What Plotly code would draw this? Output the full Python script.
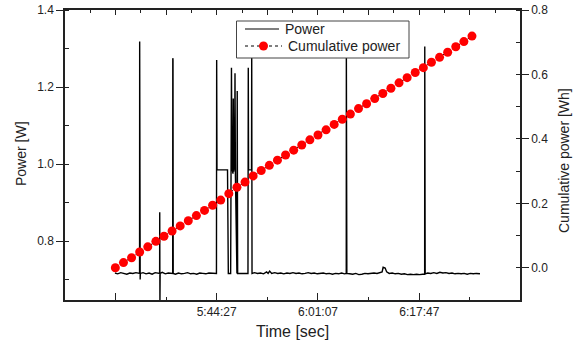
import plotly.graph_objects as go

# ---- data (time in seconds of the day) ----
power_t = [
    19663, 19690, 19720, 19750, 19780, 19810, 19840, 19870, 19900,
    19906, 19907, 19909, 19910, 19912, 19914,
    19940, 19970, 20000, 20030, 20060, 20090,
    20104, 20105, 20107, 20109,
    20130, 20160, 20190, 20220,
    20233, 20234, 20236, 20238,
    20260, 20290, 20320, 20350, 20380, 20410, 20440, 20470, 20500, 20530,
    20560, 20590, 20620, 20650, 20665,
    20667, 20670, 20774, 20782, 20805, 20813, 20818, 20828, 20831, 20835,
    20844, 20848, 20852, 20860, 20867, 20870, 20874, 20976, 20979, 20982,
    21011, 21013, 21016,
    21040, 21070, 21100, 21130, 21160, 21175, 21190, 21210, 21240, 21270,
    21300, 21330, 21360, 21390, 21420, 21450, 21480, 21510, 21540, 21570,
    21600, 21630, 21660, 21690, 21720, 21750, 21780, 21810, 21840, 21870,
    21900, 21930,
    21946, 21947, 21949, 21950, 21952,
    21980, 22010, 22040, 22070, 22100, 22130, 22160, 22190, 22220, 22250,
    22280, 22300, 22310, 22330, 22345, 22370, 22400, 22430, 22460, 22490,
    22520, 22550, 22580, 22610, 22640, 22670, 22700,
    22720, 22721, 22723, 22725,
    22750, 22780, 22810, 22840, 22870, 22900, 22930, 22960, 22990, 23020,
    23050, 23080, 23110, 23140, 23170, 23200, 23230, 23266,
]
power_w = [
    0.717, 0.715, 0.718, 0.716, 0.714, 0.717, 0.716, 0.718, 0.715,
    0.716, 1.318, 0.720, 1.265, 0.700, 0.716,
    0.718, 0.715, 0.717, 0.714, 0.718, 0.716,
    0.716, 0.875, 0.640, 0.716,
    0.719, 0.715, 0.717, 0.716,
    0.716, 1.275, 1.270, 0.716,
    0.714, 0.717, 0.715, 0.716, 0.718, 0.715, 0.716, 0.714, 0.717, 0.716,
    0.715, 0.717, 0.716, 0.715, 0.716,
    1.270, 0.985, 0.985, 0.716, 0.716, 1.250, 0.990, 0.975, 1.170, 0.980,
    1.000, 1.236, 0.970, 0.716, 0.716, 1.190, 0.716, 0.716, 1.250, 0.985,
    0.985, 1.290, 0.716,
    0.718, 0.716, 0.717, 0.715, 0.720, 0.716, 0.722, 0.716, 0.718, 0.716,
    0.717, 0.715, 0.717, 0.716, 0.718, 0.716, 0.717, 0.715, 0.716, 0.718,
    0.716, 0.717, 0.715, 0.716, 0.717, 0.715, 0.716, 0.714, 0.716, 0.715,
    0.717, 0.715,
    0.716, 1.300, 0.990, 1.175, 0.716,
    0.715, 0.714, 0.716, 0.713, 0.714, 0.716, 0.715, 0.716, 0.717, 0.716,
    0.718, 0.720, 0.732, 0.730, 0.720, 0.716, 0.717, 0.715, 0.716, 0.714,
    0.715, 0.713, 0.714, 0.713, 0.714, 0.713, 0.714,
    0.714, 1.305, 0.970, 0.715,
    0.717, 0.716, 0.718, 0.716, 0.719, 0.717, 0.718, 0.716, 0.717, 0.715,
    0.716, 0.715, 0.716, 0.714, 0.716, 0.715, 0.716, 0.715,
]

cum_t = [
    19667, 19747, 19827, 19907, 19987, 20067, 20147, 20227, 20307, 20387,
    20467, 20547, 20627, 20707, 20787, 20867, 20947, 21027, 21107, 21187,
    21267, 21347, 21427, 21507, 21587, 21667, 21747, 21827, 21907, 21987,
    22067, 22147, 22227, 22307, 22387, 22467, 22547, 22627, 22707, 22787,
    22867, 22947, 23027, 23107, 23187,
]
cum_wh = [
    0.000, 0.016, 0.031, 0.049, 0.065, 0.082, 0.098, 0.114, 0.130, 0.146,
    0.162, 0.178, 0.194, 0.210, 0.230, 0.250, 0.266, 0.285, 0.302, 0.318,
    0.334, 0.350, 0.365, 0.381, 0.397, 0.412, 0.428, 0.445, 0.461, 0.477,
    0.494, 0.509, 0.525, 0.541, 0.557, 0.574, 0.590, 0.606, 0.621, 0.638,
    0.653, 0.669, 0.686, 0.702, 0.719,
]

x_tickvals = [19667, 20667, 21667, 22667]
x_ticktext = ["", "5:44:27", "6:01:07", "6:17:47"]
x_range = [19170, 23661]

series_names = ["Power", "Cumulative power"]
x_title = "Time [sec]"
y_title = "Power [W]"
y2_title = "Cumulative power [Wh]"

FONT = "Liberation Sans, Arial, sans-serif"
AX = "#222222"

# page geometry (page body margin is removed, so figure == window)
W, H = 580, 347
PL, PR, PT, PB = 65, 520, 10, 300          # plot area in pixels
L, T, R, B = PL, PT, W - PR, H - PB
PW, PH = PR - PL, PB - PT


def px(xp):
    return (xp - PL) / PW


def py(yp):
    return (PB - yp) / PH


fig = go.Figure()
fig.add_trace(go.Scatter(
    x=power_t, y=power_w, mode="lines", name=series_names[0],
    line=dict(color="black", width=1.4), showlegend=False,
))
fig.add_trace(go.Scatter(
    x=cum_t, y=cum_wh, mode="lines+markers", name=series_names[1],
    yaxis="y2", showlegend=False,
    line=dict(color="black", width=1, dash="dot"),
    marker=dict(color="#ff0000", size=9, line=dict(width=0)),
))
# helper trace so that the top axis is drawn
fig.add_trace(go.Scatter(
    x=[x_tickvals[0]], y=[1.0], xaxis="x2", mode="markers",
    marker=dict(opacity=0), showlegend=False, hoverinfo="skip",
))

# legend drawn as a boxed key
shapes = [
    dict(type="rect", xref="paper", yref="paper",
         x0=px(236.5), x1=px(409), y0=py(58), y1=py(21),
         line=dict(color="#444", width=1), fillcolor="white", layer="above"),
    dict(type="line", xref="paper", yref="paper",
         x0=px(245), x1=px(279), y0=py(29), y1=py(29),
         line=dict(color="black", width=1.2), layer="above"),
    dict(type="line", xref="paper", yref="paper",
         x0=px(245), x1=px(282), y0=py(46), y1=py(46),
         line=dict(color="black", width=1, dash="dot"), layer="above"),
    dict(type="circle", xref="paper", yref="paper",
         x0=px(259), x1=px(268), y0=py(50.5), y1=py(41.5),
         line=dict(width=0), fillcolor="#ff0000", layer="above"),
]

annotations = [
    dict(text=series_names[0], xref="paper", yref="paper",
         x=px(283), y=py(29), xanchor="left", yanchor="middle",
         showarrow=False, font=dict(size=14, family=FONT, color="#222")),
    dict(text=series_names[1], xref="paper", yref="paper",
         x=px(286), y=py(46), xanchor="left", yanchor="middle",
         showarrow=False, font=dict(size=14, family=FONT, color="#222")),
    dict(text=x_title, xref="paper", yref="paper",
         x=0.5, y=py(331), xanchor="center", yanchor="middle",
         showarrow=False, font=dict(size=16, family=FONT, color="#222")),
    dict(text=y_title, xref="paper", yref="paper",
         x=px(21), y=py(154), xanchor="center", yanchor="middle",
         textangle=-90, showarrow=False,
         font=dict(size=14, family=FONT, color="#222")),
    dict(text=y2_title, xref="paper", yref="paper",
         x=px(564), y=py(161), xanchor="center", yanchor="middle",
         textangle=-90, showarrow=False,
         font=dict(size=14, family=FONT, color="#222")),
]

fig.update_layout(
    width=W, height=H,
    margin=dict(l=L, r=R, t=T, b=B, autoexpand=False),
    paper_bgcolor="white", plot_bgcolor="white",
    font=dict(family=FONT, size=12, color="#222"),
    showlegend=False,
    shapes=shapes,
    annotations=annotations,
    xaxis=dict(
        range=x_range, showgrid=False, zeroline=False, automargin=False,
        showline=True, linecolor=AX, linewidth=1.5,
        tickmode="array", tickvals=x_tickvals, ticktext=x_ticktext,
        ticks="inside", ticklen=7, tickwidth=1, tickcolor=AX,
        minor=dict(tick0=19667, dtick=500, ticks="inside", ticklen=3,
                   tickwidth=1, tickcolor=AX),
        tickfont=dict(size=12),
    ),
    xaxis2=dict(
        range=x_range, overlaying="x", side="top", showgrid=False,
        zeroline=False, showline=True, linecolor=AX, linewidth=1.5,
        showticklabels=False, automargin=False,
        tickmode="linear", tick0=19667, dtick=500,
        ticks="inside", ticklen=5, tickwidth=1, tickcolor=AX,
        minor=dict(tick0=19667, dtick=250, ticks="inside", ticklen=3,
                   tickwidth=1, tickcolor=AX),
    ),
    yaxis=dict(
        range=[0.647, 1.4], showgrid=False, zeroline=False, automargin=False,
        showline=True, linecolor=AX, linewidth=1.5,
        tickmode="linear", tick0=0, dtick=0.2, tickformat=".1f",
        ticks="outside", ticklen=7, tickwidth=1, tickcolor=AX,
        minor=dict(dtick=0.1, tick0=0, ticks="inside", ticklen=4,
                   tickwidth=1, tickcolor=AX),
        tickfont=dict(size=12), ticklabeloverflow="allow",
    ),
    yaxis2=dict(
        range=[-0.1, 0.8], overlaying="y", side="right", showgrid=False,
        zeroline=False, showline=True, linecolor=AX, linewidth=1.5,
        automargin=False,
        tickmode="linear", tick0=0, dtick=0.2, tickformat=".1f",
        ticks="outside", ticklen=7, tickwidth=1, tickcolor=AX,
        minor=dict(dtick=0.1, tick0=0, ticks="inside", ticklen=4,
                   tickwidth=1, tickcolor=AX),
        tickfont=dict(size=12), ticklabeloverflow="allow",
    ),
)

fig.write_html(
    "out.html",
    config={"displayModeBar": False},
    post_script="document.body.style.margin='0';",
)
